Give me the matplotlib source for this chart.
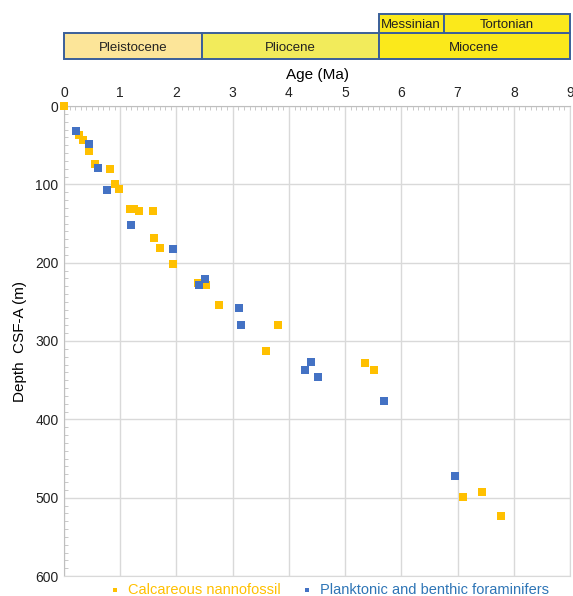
import matplotlib
matplotlib.use("Agg")
import matplotlib.pyplot as plt
from matplotlib.patches import Rectangle
from matplotlib.ticker import MultipleLocator

plt.rcParams['font.family'] = ['Liberation Sans', 'DejaVu Sans']

# --- Age-depth tie points ---
nanno_age = [0.0, 0.27, 0.34, 0.44, 0.56, 0.82, 0.91, 0.97, 1.17, 1.25, 1.34, 1.59,
             1.60, 1.71, 1.93, 2.38, 2.53, 2.76, 3.81, 3.60, 5.36, 5.52, 7.09, 7.44, 7.78]
nanno_depth = [0, 37, 43, 57, 74, 80, 99, 106, 131, 131, 134, 134,
               168, 181, 202, 226, 229, 254, 279, 313, 328, 337, 499, 493, 524]

foram_age = [0.22, 0.45, 0.61, 0.77, 1.20, 1.93, 2.50, 2.41, 3.12, 3.15,
             4.39, 4.29, 4.52, 5.70, 6.96]
foram_depth = [32, 49, 79, 107, 152, 182, 221, 229, 258, 279,
               327, 337, 346, 376, 472]

# --- Chronostratigraphy ---
epoch_names = ['Pleistocene', 'Pliocene', 'Miocene']
epoch_start = [0.0, 2.45, 5.6]
epoch_end = [2.45, 5.6, 9.0]
epoch_colors = ['#FCE599', '#F2EB5B', '#FBE91B']

stage_names = ['Messinian', 'Tortonian']
stage_start = [5.6, 6.75]
stage_end = [6.75, 9.0]
stage_colors = ['#FBE91B', '#FBE91B']

W, H = 573, 596
fig = plt.figure(figsize=(W / 100, H / 100), dpi=100)

left, right = 64 / W, 570 / W
ax = fig.add_axes([left, 1 - 576 / H, right - left, (576 - 106) / H])

yellow = '#FFC000'
blue = '#4472C4'
ax.scatter(nanno_age, nanno_depth, marker='s', s=30, color=yellow, zorder=3,
           label='Calcareous nannofossil', linewidths=0, clip_on=False)
ax.scatter(foram_age, foram_depth, marker='s', s=30, color=blue, zorder=3,
           label='Planktonic and benthic foraminifers', linewidths=0, clip_on=False)

ax.set_xlim(0, 9)
ax.set_ylim(600, 0)
ax.xaxis.set_major_locator(MultipleLocator(1))
ax.xaxis.set_minor_locator(MultipleLocator(0.1))
ax.yaxis.set_major_locator(MultipleLocator(100))
ax.yaxis.set_minor_locator(MultipleLocator(10))
ax.xaxis.tick_top()
ax.xaxis.set_label_position('top')
ax.set_xlabel('Age (Ma)', fontsize=11, labelpad=5)
ax.set_ylabel('Depth  CSF-A (m)', fontsize=11, labelpad=6)

ax.grid(True, which='major', color='#D9D9D9', linewidth=1)
ax.set_axisbelow(True)
ax.tick_params(which='both', direction='in', color='#BFBFBF', labelsize=10,
               labelcolor='#222222')
ax.tick_params(which='major', length=0, pad=4)
ax.tick_params(which='minor', length=3)
for side in ['bottom', 'right']:
    ax.spines[side].set_color('#D9D9D9')
for side in ['top', 'left']:
    ax.spines[side].set_color('#BFBFBF')

# --- Epoch / stage boxes above the plot ---
bx = fig.add_axes([left, 1 - 59 / H, right - left, 45 / H])
bx.set_xlim(0, 9)
bx.set_ylim(0, 45)
bx.axis('off')
edge = '#3A5F9A'
for name, a, b, c in zip(epoch_names, epoch_start, epoch_end, epoch_colors):
    bx.add_patch(Rectangle((a, 0), b - a, 26, facecolor=c, edgecolor=edge,
                           linewidth=1.4, clip_on=False))
    bx.text((a + b) / 2, 12.5, name, ha='center', va='center_baseline',
            fontsize=9.5, color='#222222')
for name, a, b, c in zip(stage_names, stage_start, stage_end, stage_colors):
    bx.add_patch(Rectangle((a, 26), b - a, 19, facecolor=c, edgecolor=edge,
                           linewidth=1.4, clip_on=False))
    bx.text((a + b) / 2, 35, name, ha='center', va='center_baseline',
            fontsize=9.5, color='#222222')

# --- Legend ---
leg = fig.legend(loc='center', bbox_to_anchor=(328 / W, 1 - 590 / H), ncol=2,
                 frameon=False, fontsize=10.5, markerscale=0.45, handletextpad=0.3,
                 handlelength=1.2, columnspacing=1.2, borderaxespad=0)
for txt, col in zip(leg.get_texts(), [yellow, '#2E75B6']):
    txt.set_color(col)

fig.savefig('out.png', dpi=100)
